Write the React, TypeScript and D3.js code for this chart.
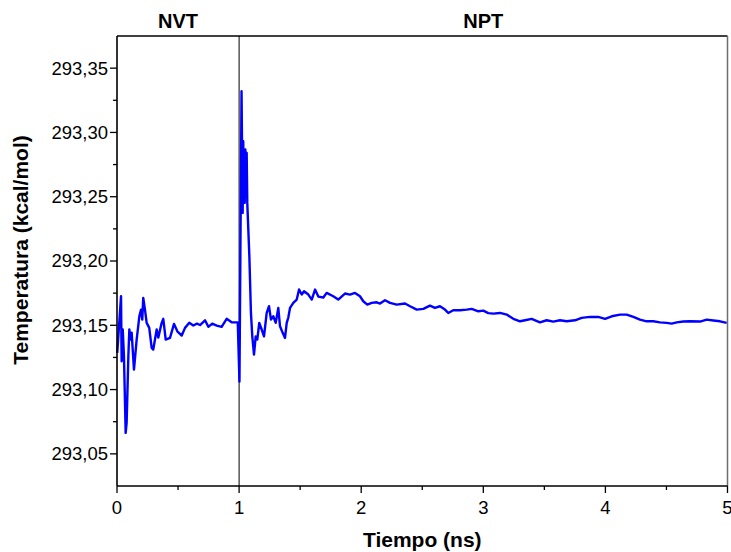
import React from "react";
import * as d3 from "d3";

const timeNs: number[] = [
  0.002, 0.033, 0.038, 0.047, 0.057, 0.071, 0.079, 0.093, 0.101, 0.112,
  0.120, 0.139, 0.161, 0.183, 0.197, 0.207, 0.215, 0.229, 0.243, 0.264,
  0.284, 0.297, 0.311, 0.325, 0.338, 0.366, 0.379, 0.399, 0.434, 0.467,
  0.494, 0.530, 0.557, 0.592, 0.625, 0.655, 0.680, 0.721, 0.748, 0.780,
  0.817, 0.857, 0.898, 0.939, 0.989, 1.003,
  1.020, 1.029, 1.034, 1.040, 1.046, 1.051, 1.056, 1.062, 1.067, 1.084, 1.097, 1.108,
  1.122, 1.136, 1.149, 1.165, 1.185, 1.204, 1.226, 1.245, 1.261, 1.280,
  1.300, 1.321, 1.335, 1.357, 1.376, 1.390, 1.403, 1.417, 1.444, 1.472,
  1.491, 1.513, 1.532, 1.567, 1.595, 1.622, 1.649, 1.690, 1.717, 1.771,
  1.812, 1.867, 1.908, 1.949, 1.990, 2.017, 2.050, 2.086, 2.127, 2.154,
  2.195, 2.236, 2.291, 2.359, 2.400, 2.455, 2.509, 2.563, 2.604, 2.645,
  2.686, 2.713, 2.754, 2.809, 2.864, 2.905, 2.959, 3.000, 3.041, 3.082,
  3.137, 3.192, 3.246, 3.301, 3.342, 3.396, 3.464, 3.519, 3.573, 3.628,
  3.683, 3.751, 3.806, 3.874, 3.942, 3.997, 4.052, 4.120, 4.174, 4.229,
  4.283, 4.338, 4.392, 4.447, 4.502, 4.543, 4.584, 4.638, 4.693, 4.775,
  4.830, 4.884, 4.939, 4.993,
];

const temperature: number[] = [
  293.1285, 293.1726, 293.1220, 293.1467, 293.1259, 293.0663, 293.0743, 293.1259, 293.1467, 293.1389,
  293.1443, 293.1155, 293.1389, 293.1570, 293.1622, 293.1544, 293.1713, 293.1622, 293.1519, 293.1480,
  293.1324, 293.1311, 293.1389, 293.1467, 293.1404, 293.1519, 293.1550, 293.1389, 293.1402, 293.1511,
  293.1453, 293.1420, 293.1480, 293.1519, 293.1498, 293.1513, 293.1502, 293.1539, 293.1488, 293.1513,
  293.1498, 293.1488, 293.1550, 293.1523, 293.1523, 293.1062,
  293.3320, 293.2374, 293.2932, 293.2500, 293.2452, 293.2867, 293.2550, 293.2841, 293.2452, 293.2037, 293.1596, 293.1414,
  293.1272, 293.1414, 293.1389, 293.1519, 293.1467, 293.1414, 293.1596, 293.1648, 293.1544, 293.1570,
  293.1519, 293.1635, 293.1492, 293.1441, 293.1402, 293.1519, 293.1560, 293.1635, 293.1674, 293.1700,
  293.1778, 293.1739, 293.1765, 293.1739, 293.1700, 293.1778, 293.1723, 293.1716, 293.1752, 293.1726,
  293.1700, 293.1747, 293.1739, 293.1752, 293.1726, 293.1687, 293.1661, 293.1674, 293.1679, 293.1669,
  293.1695, 293.1674, 293.1661, 293.1669, 293.1648, 293.1622, 293.1628, 293.1653, 293.1635, 293.1648,
  293.1622, 293.1596, 293.1617, 293.1617, 293.1622, 293.1628, 293.1609, 293.1614, 293.1595, 293.1591,
  293.1596, 293.1583, 293.1550, 293.1531, 293.1539, 293.1550, 293.1523, 293.1539, 293.1529, 293.1539,
  293.1531, 293.1539, 293.1558, 293.1565, 293.1565, 293.1550, 293.1570, 293.1583, 293.1583, 293.1565,
  293.1544, 293.1531, 293.1531, 293.1523, 293.1519, 293.1513, 293.1523, 293.1529, 293.1531, 293.1529,
  293.1544, 293.1537, 293.1531, 293.1519,
];

const xMajorTicks: number[] = [0, 1, 2, 3, 4, 5];
const xMinorTicks: number[] = [0.5, 1.5, 2.5, 3.5, 4.5];
const yMajorTicks: number[] = [293.05, 293.1, 293.15, 293.2, 293.25, 293.3, 293.35];
const yMinorTicks: number[] = [293.075, 293.125, 293.175, 293.225, 293.275, 293.325];
const phaseLabels: string[] = ["NVT", "NPT"];
const phaseBounds: number[] = [0, 1, 5];

const W = 731;
const H = 552;
const M = { left: 117, right: 3.5, top: 36, bottom: 66 };
const FONT = "'Liberation Sans', Arial, Helvetica, sans-serif";

export default function App() {
  const x = d3.scaleLinear().domain([0, 5]).range([M.left, W - M.right]);
  const y = d3.scaleLinear().domain([293.025, 293.375]).range([H - M.bottom, M.top]);
  const pts = timeNs.map((t, i) => [t, temperature[i]] as [number, number]);
  const line = d3
    .line<[number, number]>()
    .x((d) => x(d[0]))
    .y((d) => y(d[1]));
  const fmtY = (v: number) => d3.format(".2f")(v).replace(".", ",");
  const x0 = M.left;
  const x1 = W - M.right;
  const yTop = M.top;
  const yBot = H - M.bottom;

  return (
    <div style={{ position: "absolute", left: 0, top: 0 }}>
      <svg width={W} height={H} style={{ display: "block", background: "#fff" }}>
        {/* frame */}
        <line x1={x0} x2={x1} y1={yTop} y2={yTop} stroke="#000" strokeWidth={1.5} />
        <line x1={x1} x2={x1} y1={yTop} y2={yBot} stroke="#6e6e6e" strokeWidth={1.5} />
        {/* phase divider */}
        <line x1={x(1)} x2={x(1)} y1={yTop} y2={yBot} stroke="#000" strokeWidth={1} />
        {/* data */}
        <path
          d={line(pts) || ""}
          fill="none"
          stroke="#0000ff"
          strokeWidth={2.4}
          strokeLinejoin="round"
        />
        {/* axes */}
        <line x1={x0} x2={x0} y1={yTop} y2={yBot} stroke="#000" strokeWidth={1.6} />
        <line x1={x0} x2={x1} y1={yBot} y2={yBot} stroke="#000" strokeWidth={1.6} />
        {yMajorTicks.map((v) => (
          <g key={"ym" + v}>
            <line x1={x0 - 7} x2={x0} y1={y(v)} y2={y(v)} stroke="#000" strokeWidth={1.3} />
            <text
              x={x0 - 9}
              y={y(v)}
              dy="0.35em"
              textAnchor="end"
              fontFamily={FONT}
              fontSize={18.5}
              fill="#000"
            >
              {fmtY(v)}
            </text>
          </g>
        ))}
        {yMinorTicks.map((v) => (
          <line key={"yn" + v} x1={x0 - 4} x2={x0} y1={y(v)} y2={y(v)} stroke="#000" strokeWidth={1.3} />
        ))}
        {xMajorTicks.map((t) => (
          <g key={"xm" + t}>
            <line x1={x(t)} x2={x(t)} y1={yBot} y2={yBot + 7} stroke="#000" strokeWidth={1.3} />
            <text
              x={x(t)}
              y={yBot + 28}
              textAnchor="middle"
              fontFamily={FONT}
              fontSize={18.5}
              fill="#000"
            >
              {t}
            </text>
          </g>
        ))}
        {xMinorTicks.map((t) => (
          <line key={"xn" + t} x1={x(t)} x2={x(t)} y1={yBot} y2={yBot + 4} stroke="#000" strokeWidth={1.3} />
        ))}
        {/* phase labels */}
        {phaseLabels.map((lab, i) => (
          <text
            key={lab}
            x={(x(phaseBounds[i]) + x(phaseBounds[i + 1])) / 2}
            y={28}
            textAnchor="middle"
            fontFamily={FONT}
            fontWeight="bold"
            fontSize={20}
            fill="#000"
          >
            {lab}
          </text>
        ))}
        {/* axis titles */}
        <text
          x={(x0 + x1) / 2}
          y={547}
          textAnchor="middle"
          fontFamily={FONT}
          fontWeight="bold"
          fontSize={21}
          fill="#000"
        >
          Tiempo (ns)
        </text>
        <text
          transform={`translate(28, 250) rotate(-90)`}
          textAnchor="middle"
          fontFamily={FONT}
          fontWeight="bold"
          fontSize={21}
          fill="#000"
        >
          Temperatura (kcal/mol)
        </text>
      </svg>
    </div>
  );
}
